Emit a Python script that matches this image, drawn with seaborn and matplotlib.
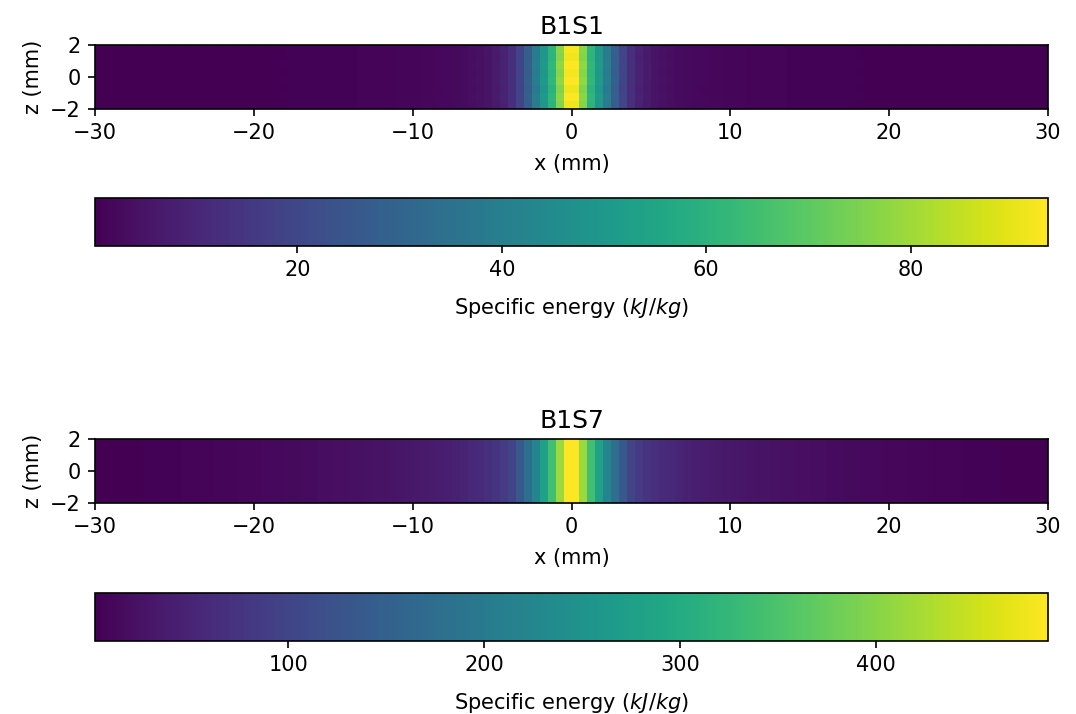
import numpy as np
import matplotlib
matplotlib.use("Agg")
import matplotlib.pyplot as plt
import seaborn as sns

# ---- data ----
titles = ["B1S1", "B1S7"]
x_ticks_mm = [-30, -20, -10, 0, 10, 20, 30]
z_ticks_mm = [2, 0, -2]
cell_mm = 0.5
# half profiles: value per 0.5 mm cell, from the centre (k=0) outwards
b1s1_half = [92.5, 77, 61, 50, 39, 28, 19, 13, 9.0, 6.8, 5.2, 4.2, 3.5, 3.0, 2.6, 2.3,
             2.05, 1.85, 1.7, 1.55, 1.45, 1.35, 1.25, 1.17, 1.1, 1.03, 0.97, 0.92, 0.87, 0.82,
             0.78, 0.74, 0.70, 0.66, 0.63, 0.6, 0.57, 0.54, 0.51, 0.48, 0.46, 0.44, 0.42,
             0.40, 0.38, 0.36, 0.35, 0.33, 0.32, 0.31, 0.30, 0.29, 0.28, 0.27, 0.26, 0.25,
             0.24, 0.23, 0.22, 0.21]
b1s7_half = [488, 415, 340, 278, 222, 180, 135, 100, 85, 75, 67, 60, 55, 50, 46, 43,
             40, 37, 35, 33, 31, 29, 27.5, 26, 24.5, 23, 22, 21, 20, 19, 18, 17, 16, 15,
             14.2, 13.4, 12.6, 11.8, 11, 10.3, 9.6, 9, 8.4, 7.8, 7.2, 6.7, 6.2, 5.7, 5.2,
             4.8, 4.4, 4.0, 3.6, 3.3, 3.0, 2.7, 2.4, 2.1, 1.8, 1.3]
# per-row factors along z (top row first)
b1s1_rows = [1.00, 0.99, 1.01, 0.995, 1.01, 0.985, 1.005, 0.99]
b1s7_rows = [1.00, 1.00, 1.00, 1.00, 1.00, 1.00, 1.00, 1.00]


def build(half, rows):
    prof = np.array(half[::-1] + half, dtype=float)
    return np.outer(np.array(rows), prof)


grids = [build(b1s1_half, b1s1_rows), build(b1s7_half, b1s7_rows)]

fig = plt.figure(figsize=(10.76, 7.14), dpi=100)
W, H = 1076, 714


def rect(x0, y0, x1, y1):
    return [x0 / W, 1 - y1 / H, (x1 - x0) / W, (y1 - y0) / H]


ax_rects = [rect(95, 45, 1048, 109), rect(95, 439, 1048, 503)]
cax_rects = [rect(95, 198, 1048, 246), rect(95, 593, 1048, 641)]

FS = 15
for title, grid, ar, cr in zip(titles, grids, ax_rects, cax_rects):
    ax = fig.add_axes(ar)
    cax = fig.add_axes(cr)
    sns.heatmap(grid, ax=ax, cmap="viridis", cbar_ax=cax,
                cbar_kws={"orientation": "horizontal"},
                xticklabels=False, yticklabels=False)
    ncol = grid.shape[1]
    nrow = grid.shape[0]
    ax.set_aspect("equal")
    ax.set_xlim(0, ncol)
    ax.set_ylim(nrow, 0)
    xpos = [(v + 30) / cell_mm for v in x_ticks_mm]
    ax.set_xticks(xpos)
    ax.set_xticklabels([f"{v}".replace("-", "\u2212") for v in x_ticks_mm])
    zpos = [(2 - v) / (4 / nrow) for v in z_ticks_mm]
    ax.set_yticks(zpos)
    ax.set_yticklabels([f"{v}".replace("-", "\u2212") for v in z_ticks_mm], rotation=0)
    ax.tick_params(axis="both", length=5.3, width=1.2, labelsize=FS, direction="out",
                   bottom=True, left=True, pad=5)
    for s in ax.spines.values():
        s.set_visible(True)
        s.set_linewidth(1.2)
        s.set_color("black")
    ax.set_xlabel("x (mm)", fontsize=FS, labelpad=8)
    ax.set_ylabel("z (mm)", fontsize=FS, labelpad=5)
    ax.set_title(title, fontsize=18, pad=8)
    cb = ax.collections[0].colorbar
    cb.outline.set_visible(True)
    cb.outline.set_linewidth(1.2)
    cb.outline.set_edgecolor("black")
    cb.set_label("Specific energy ($kJ/kg$)", fontsize=FS, labelpad=11)
    cax.tick_params(length=5.3, width=1.2, labelsize=FS, pad=5)

fig.savefig("out.png", dpi=100)
